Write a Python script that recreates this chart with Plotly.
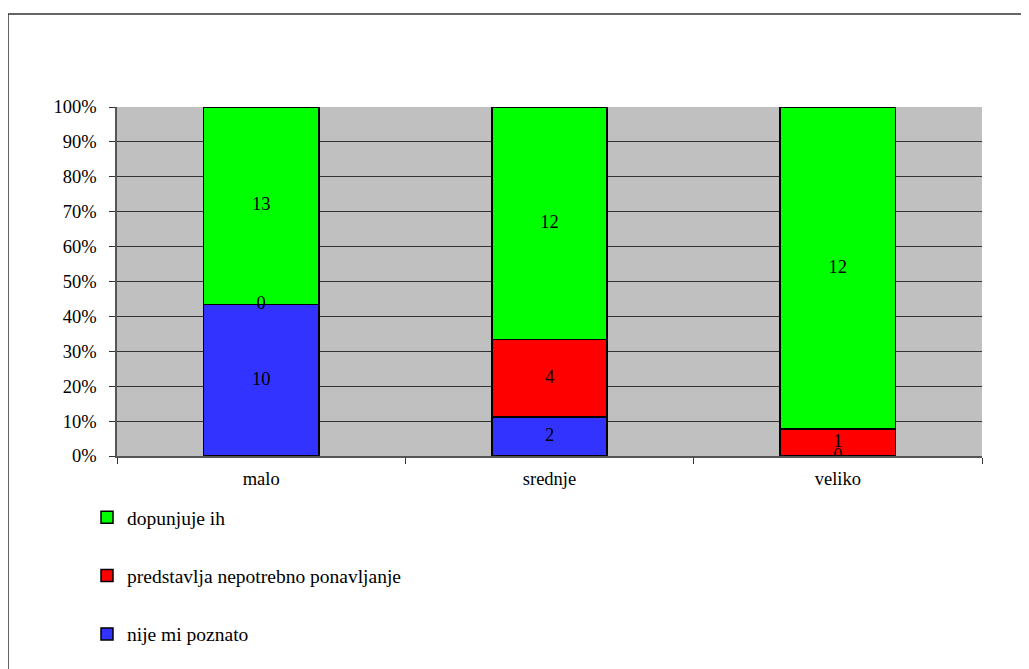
import plotly.graph_objects as go

categories = ["malo", "srednje", "veliko"]
series_names = ["nije mi poznato", "predstavlja nepotrebno ponavljanje", "dopunjuje ih"]
values = [
    [10, 2, 0],    # nije mi poznato
    [0, 4, 1],     # predstavlja nepotrebno ponavljanje
    [13, 12, 12],  # dopunjuje ih
]
colors = ["#3333FF", "#FF0000", "#00FF00"]
y_ticks = [0, 10, 20, 30, 40, 50, 60, 70, 80, 90, 100]
y_ticktext = [f"{t}%" for t in y_ticks]

FONT = "Liberation Serif"
TICK_SIZE = 18.5
LEG_SIZE = 19.5

W, H = 1021, 661
L, R, T, B = 109, 47, 99, 213
PW, PH = W - L - R, H - T - B

fig = go.Figure()
n = len(series_names)
for i, (name, vals, col) in enumerate(zip(series_names, values, colors)):
    fig.add_trace(go.Bar(
        x=categories, y=vals, name=name,
        marker=dict(color=col, line=dict(color="black", width=1.5)),
        legendgroup=f"g{i}", legendrank=n - i,
    ))

# value labels at the centre of each stacked segment (including zero segments)
totals = [sum(values[s][c] for s in range(len(values))) for c in range(len(categories))]
lab_x, lab_y, lab_t = [], [], []
for c in range(len(categories)):
    cum = 0.0
    for s in range(len(values)):
        v = values[s][c]
        pct = 100.0 * v / totals[c]
        lab_x.append(categories[c])
        lab_y.append(cum + pct / 2)
        lab_t.append(str(v))
        cum += pct
fig.add_trace(go.Scatter(
    x=lab_x, y=lab_y, text=lab_t, mode="text",
    textfont=dict(family=FONT, size=TICK_SIZE, color="black"),
    showlegend=False, hoverinfo="skip",
))

fig.update_layout(
    barmode="stack", barnorm="percent", bargap=0.6,
    width=W, height=H,
    margin=dict(l=L, r=R, t=T, b=B),
    plot_bgcolor="#C0C0C0", paper_bgcolor="white",
    font=dict(family=FONT, size=TICK_SIZE, color="black"),
    showlegend=True,
    legend=dict(
        x=(87 - 8 - L) / PW, y=(448 - 490) / PH, xanchor="left", yanchor="top",
        traceorder="grouped", tracegroupgap=30,
        font=dict(family=FONT, size=LEG_SIZE, color="black"),
        itemwidth=30, bgcolor="rgba(0,0,0,0)",
    ),
    xaxis=dict(
        type="category", tickson="boundaries", ticks="outside", ticklen=6,
        tickcolor="#333", showline=True, linecolor="#555", linewidth=1.5,
        showgrid=False, tickfont=dict(family=FONT, size=TICK_SIZE),
        ticklabelstandoff=5,
    ),
    yaxis=dict(
        range=[0, 100], tickvals=y_ticks, ticktext=y_ticktext,
        ticks="outside", ticklen=6, tickcolor="#333",
        showline=True, linecolor="#555", linewidth=1.5,
        showgrid=True, gridcolor="#333", gridwidth=1, zeroline=False,
        tickfont=dict(family=FONT, size=TICK_SIZE),
        ticklabelstandoff=9,
    ),
    shapes=[dict(type="rect", xref="paper", yref="paper",
                 x0=(0 - L) / PW, x1=(1040 - L) / PW,
                 y0=-(H + 20 - T - PH) / PH, y1=(PH + T - 6) / PH,
                 line=dict(color="#333", width=1.5), fillcolor="rgba(0,0,0,0)",
                 layer="below")],
)

fig.write_html("out.html")
